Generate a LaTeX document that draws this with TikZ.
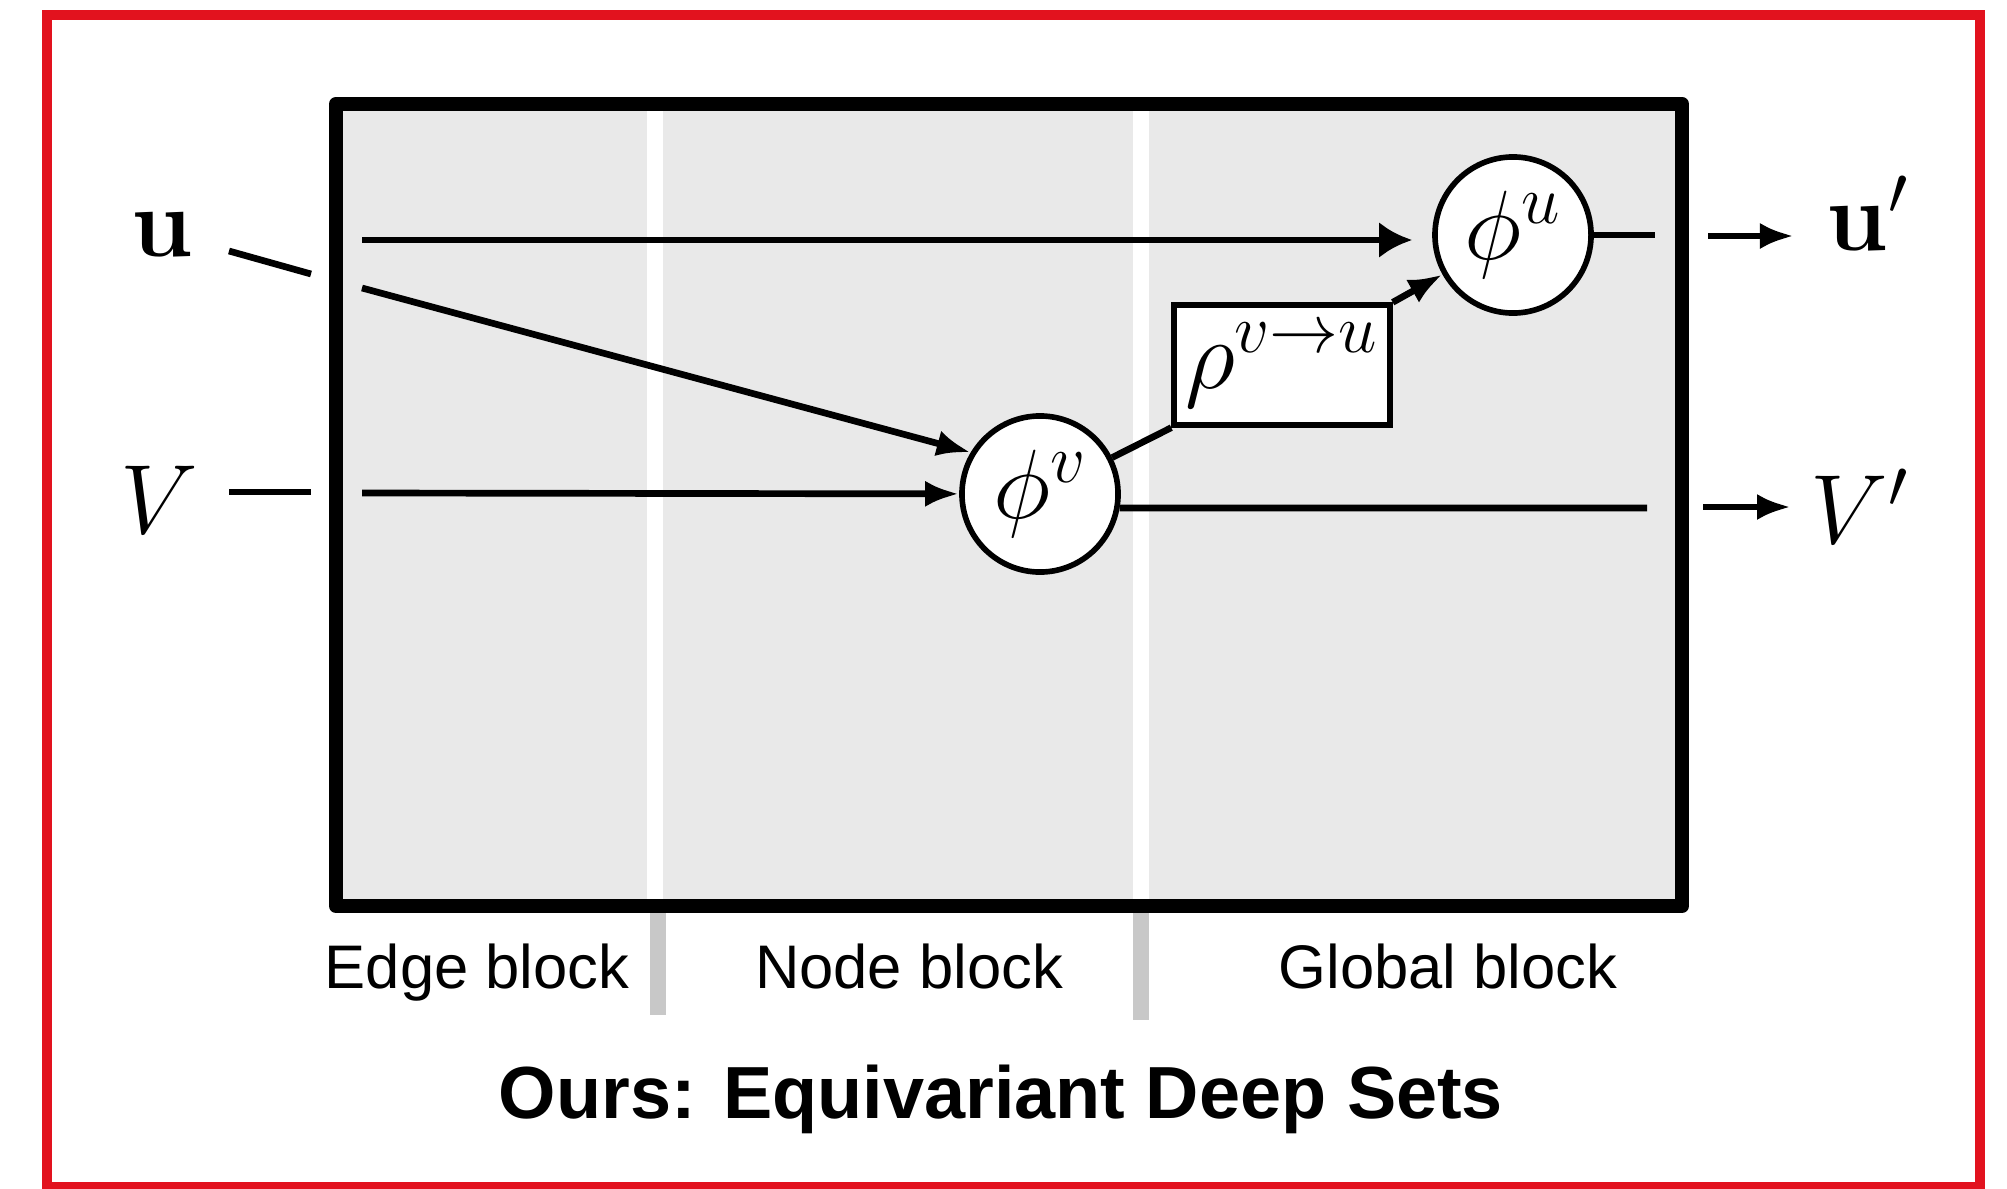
\RequirePackage{fix-cm}
\documentclass[tikz,border=0pt]{standalone}
\usepackage[no-math]{fontspec}
\newfontfamily\labelfont{Liberation Sans}
\usetikzlibrary{arrows.meta}
\definecolor{framered}{RGB}{226,18,30}
\definecolor{panelgray}{RGB}{233,233,233}
\definecolor{sepgray}{RGB}{200,200,200}
\newcommand{\mathbig}{\fontsize{28}{34}\selectfont}
\begin{document}
\begin{tikzpicture}[x=0.01cm,y=-0.01cm,
  fn/.style={circle,draw,line width=1.6pt,fill=white,minimum size=1.56cm,inner sep=0pt,font=\mathbig},
  agg/.style={rectangle,draw,line width=1.5pt,fill=white,minimum width=2.16cm,minimum height=1.2cm,inner sep=0pt,font=\mathbig},
  wire/.style={line width=1.9pt},
  bigtip/.style={wire,-{Latex[length=0.33cm,width=0.36cm]}},
  smalltip/.style={wire,-{Latex[length=0.34cm,width=0.26cm]}},
  sym/.style={font=\mathbig,inner sep=0pt},
  blocklabel/.style={font=\labelfont\fontsize{17.5}{21}\selectfont,anchor=base,inner sep=0pt,text=black},
]
\useasboundingbox (0,0) rectangle (2007,1188);
\fill[white] (0,0) rectangle (2007,1188);
\draw[framered,line width=2.85pt] (47,15) rectangle (1979.5,1187);

% panel with its three blocks
\fill[panelgray] (336,104) rectangle (1682,906);
\fill[white] (647,104) rectangle (663,906);
\fill[white] (1133,104) rectangle (1149,906);
\fill[sepgray] (650,906) rectangle (666,1015);
\fill[sepgray] (1133,906) rectangle (1149,1020);
\draw[line width=4pt,line join=round] (336,104) rectangle (1682,906);

% update and aggregation functions
\node[fn] (phiu) at (1513,235) {$\phi^u$};
\node[fn] (phiv) at (1040,494) {$\phi^v$};
\node[agg] (rho) at (1282,365) {$\rho^{v\to u}$};

% inputs and outputs
\node[sym,anchor=base] (u) at (162,256) {$\mathbf{u}$};
\node[sym,anchor=base west] (V) at (120,533) {$V$};
\node[sym,anchor=base west] (uprime) at (1826,250) {$\mathbf{u}'$};
\node[sym,anchor=base west] (Vprime) at (1810,543) {$V'$};

\coordinate (ua) at (229,251); \coordinate (ub) at (311,274);
\coordinate (va) at (229,492); \coordinate (vb) at (311,492);
\coordinate (uin) at (362,240); \coordinate (udiag) at (362,288);
\coordinate (vin) at (362,493);
\coordinate (uout) at (1655,235); \coordinate (vout) at (1647,508);
\coordinate (uo) at (1708,236); \coordinate (vo) at (1703,507);

\draw[wire] (ua) -- (ub);
\draw[wire] (va) -- (vb);
\draw[bigtip,shorten >=0.2cm] (uin) -- (phiu.west |- uin);
\draw[smalltip] (udiag) -- (phiv.149);
\draw[smalltip] (vin) -- (phiv);
\draw[wire] (phiv) -- (rho.south west);
\draw[smalltip] (rho.north east) -- (phiu);
\draw[wire] (phiu.east) -- (uout);
\draw[wire] (phiv.-10) -- (vout);
\draw[smalltip,shorten >=0.32cm] (uo) -- (uo -| uprime.west);
\draw[smalltip,shorten >=0.19cm] (vo) -- (vo -| Vprime.west);

% block captions and title
\node[blocklabel] (edge) at (477,988) {Edge block};
\node[blocklabel] (nodeb) at (909,988) {Node block};
\node[blocklabel] (glob) at (1448,988) {Global block};
\node[font=\labelfont\bfseries\fontsize{21}{25}\selectfont,anchor=base,inner sep=0pt] (title) at (1001,1118) {Ours: Equivariant Deep Sets};
\end{tikzpicture}
\end{document}
